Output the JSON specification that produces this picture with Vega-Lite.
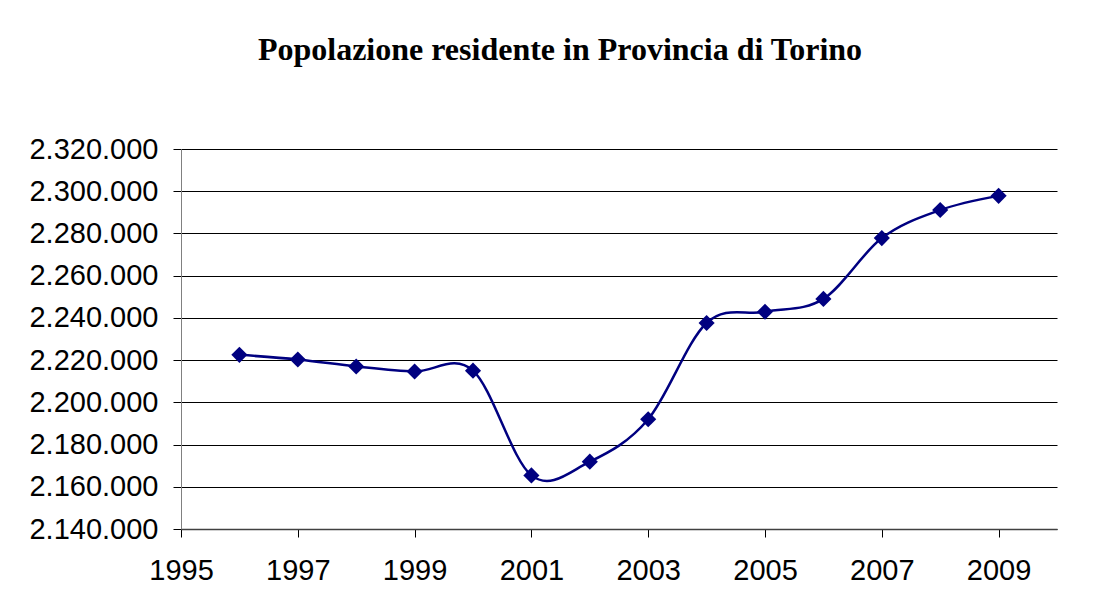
{
  "$schema": "https://vega.github.io/schema/vega-lite/v6.json",
  "width": 876,
  "height": 380,
  "autosize": {"type": "none"},
  "padding": {"left": 181, "top": 149, "right": 46, "bottom": 69},
  "background": "white",
  "config": {
    "locale": {"number": {"decimal": ",", "thousands": ".", "grouping": [3], "currency": ["€", ""]}},
    "view": {"stroke": null},
    "font": "Liberation Sans"
  },
  "title": {
    "text": "Popolazione residente in Provincia di Torino",
    "font": "Liberation Serif",
    "fontSize": 32,
    "fontWeight": "bold",
    "color": "black",
    "anchor": "middle",
    "dx": -59,
    "offset": 68
  },
  "data": {
    "values": [
      {"anno": 1996, "popolazione": 2222500},
      {"anno": 1997, "popolazione": 2220300},
      {"anno": 1998, "popolazione": 2217000},
      {"anno": 1999, "popolazione": 2214600},
      {"anno": 2000, "popolazione": 2215000},
      {"anno": 2001, "popolazione": 2165400},
      {"anno": 2002, "popolazione": 2171900},
      {"anno": 2003, "popolazione": 2192000},
      {"anno": 2004, "popolazione": 2237600},
      {"anno": 2005, "popolazione": 2242900},
      {"anno": 2006, "popolazione": 2249000},
      {"anno": 2007, "popolazione": 2277800},
      {"anno": 2008, "popolazione": 2291100},
      {"anno": 2009, "popolazione": 2297800}
    ]
  },
  "encoding": {
    "x": {
      "field": "anno",
      "type": "quantitative",
      "scale": {"domain": [1995, 2010], "nice": false, "zero": false},
      "axis": {
        "title": null,
        "values": [1995, 1997, 1999, 2001, 2003, 2005, 2007, 2009],
        "format": "d",
        "grid": false,
        "domainColor": "#404040",
        "domainWidth": 1.5,
        "tickColor": "#000000",
        "tickSize": 8,
        "labelFontSize": 29,
        "labelColor": "black",
        "labelPadding": 19,
        "labelFlush": false,
        "labelOverlap": false
      }
    },
    "y": {
      "field": "popolazione",
      "type": "quantitative",
      "scale": {"domain": [2140000, 2320000], "nice": false, "zero": false},
      "axis": {
        "title": null,
        "values": [2140000, 2160000, 2180000, 2200000, 2220000, 2240000, 2260000, 2280000, 2300000, 2320000],
        "format": ",d",
        "grid": true,
        "gridColor": "#000000",
        "gridWidth": 1,
        "domainColor": "#808080",
        "tickColor": "#000000",
        "tickSize": 8,
        "labelFontSize": 29,
        "labelColor": "black",
        "labelPadding": 15,
        "labelOverlap": false
      }
    }
  },
  "layer": [
    {
      "mark": {"type": "line", "interpolate": "cardinal", "tension": 0, "color": "#000080", "strokeWidth": 2.5}
    },
    {
      "mark": {"type": "point", "shape": "diamond", "filled": true, "size": 260, "color": "#000080", "opacity": 1}
    }
  ]
}
